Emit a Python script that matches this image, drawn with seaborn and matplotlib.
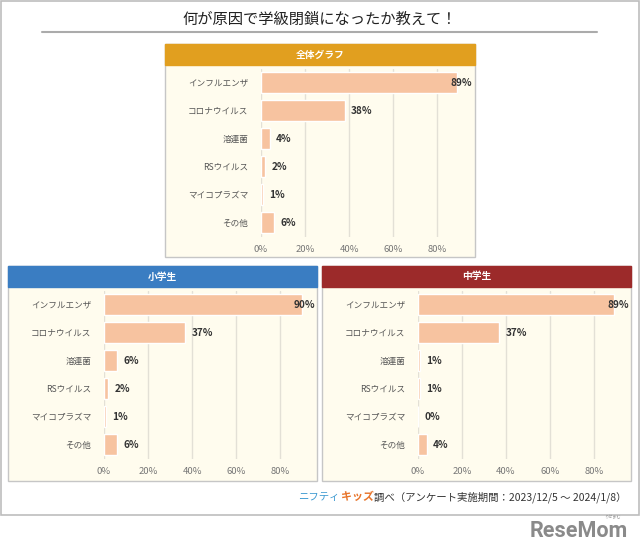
import matplotlib
matplotlib.use('Agg')
import matplotlib.pyplot as plt
import seaborn as sns
from matplotlib.patches import Rectangle
from matplotlib.lines import Line2D

sns.set_theme(style='white')
plt.rcParams['font.family'] = ['Noto Sans CJK JP', 'DejaVu Sans']

# data
categories = ['インフルエンザ', 'コロナウイルス', '溶連菌', 'RSウイルス', 'マイコプラズマ', 'その他']
total_vals = [89, 38, 4, 2, 1, 6]
elem_vals = [90, 37, 6, 2, 1, 6]
junior_vals = [89, 37, 1, 1, 0, 4]
xticks = [0, 20, 40, 60, 80]
xtick_labels = ['0%', '20%', '40%', '60%', '80%']

title = '何が原因で学級閉鎖になったか教えて！'
panel_titles = ['全体グラフ', '小学生', '中学生']

BAR = '#F7C3A0'
CREAM = '#FFFCEE'
HEADERS = ['#E19F1F', '#3A7DC2', '#9C2A2A']
EDGE = '#C6C6C6'
GRID = '#E3E0D6'

W, H = 640, 552
fig = plt.figure(figsize=(W / 100, H / 100), dpi=100)
fig.patch.set_facecolor('white')


def fx(x):
    return x / W


def fy(y):
    return 1 - y / H


def add_rect(x0, y0, x1, y1, **kw):
    fig.patches.append(Rectangle((fx(x0), fy(y1)), fx(x1) - fx(x0), fy(y0) - fy(y1),
                                 transform=fig.transFigure, figure=fig, zorder=0, **kw))


# outer frame
add_rect(1, 1, 639, 515, facecolor='white', edgecolor='#BDBDBD', lw=1.2)

fig.text(fx(320), fy(19), title, ha='center', va='center', fontsize=11, color='#222222')
fig.lines.append(Line2D([fx(42), fx(597)], [fy(32), fy(32)], transform=fig.transFigure,
                        color='#ABABAB', lw=1.5))

XMAX = 95
SCALE = 2.2  # px per percent


def panel(px0, px1, top, bottom, x_zero, header_col, name, vals):
    hb = top + 21
    add_rect(px0, top, px1, bottom, facecolor=CREAM, edgecolor=EDGE, lw=1)
    add_rect(px0, top, px1, hb, facecolor=header_col, edgecolor=header_col, lw=1)
    fig.text(fx((px0 + px1) / 2), fy((top + hb) / 2), name, ha='center', va='center',
             fontsize=7, fontweight='bold', color='white')

    ay0 = hb + 3.5
    ay1 = ay0 + 168
    ax = fig.add_axes([fx(x_zero), fy(ay1), XMAX * SCALE / W, (ay1 - ay0) / H])
    ax.set_zorder(3)
    ax.set_facecolor('none')
    sns.barplot(x=vals, y=categories, orient='h', color=BAR, saturation=1,
                width=0.75, ax=ax, zorder=3)
    ax.set_xlim(0, XMAX)
    ax.set_ylim(5.5, -0.5)
    ax.set_xticks(xticks)
    ax.set_xticklabels(xtick_labels, fontsize=6.8, color='#777777')
    ax.tick_params(axis='x', length=0, pad=6)
    ax.tick_params(axis='y', length=0, pad=9, labelsize=6.2, labelcolor='#555555')
    ax.grid(axis='x', color=GRID, lw=1, zorder=0)
    ax.set_axisbelow(True)
    for s in ax.spines.values():
        s.set_visible(False)
    ax.set_xlabel('')
    ax.set_ylabel('')
    for i, v in enumerate(vals):
        if v > 80:
            ax.text(XMAX + 0.8, i, f'{v}%', ha='right', va='center', fontsize=7.2,
                    fontweight='bold', color='#333333', zorder=5)
        else:
            ax.annotate(f'{v}%', (v, i), xytext=(4.5, 0), textcoords='offset points',
                        ha='left', va='center', fontsize=7.2, fontweight='bold',
                        color='#333333', zorder=5)
    return ax


panel(165, 475, 44, 257, 261, HEADERS[0], panel_titles[0], total_vals)
panel(8, 317, 266, 481, 104, HEADERS[1], panel_titles[1], elem_vals)
panel(322, 631, 266, 481, 418, HEADERS[2], panel_titles[2], junior_vals)

# footer: pieces laid out one after another
renderer = fig.canvas.get_renderer()
pieces = [('ニフティ', '#3D9AD1', 'normal', 7.5),
          ('キッズ', '#E8742A', 'bold', 7.9),
          ('調べ（アンケート実施期間：2023/12/5 ～ 2024/1/8）', '#333333', 'normal', 7.5)]
xpos = 298
for txt, col, wt, fs in pieces:
    t = fig.text(fx(xpos), fy(497), txt, ha='left', va='center', fontsize=fs,
                 fontweight=wt, color=col)
    bb = t.get_window_extent(renderer)
    xpos += bb.width + 1

fig.text(fx(628), fy(531), 'ReseMom', ha='right', va='center', fontsize=15.5,
         fontweight='bold', color='#8A8A8A', family=['Roboto', 'DejaVu Sans'])
fig.text(fx(612), fy(517), 'りせまむ', ha='center', va='center', fontsize=3, color='#999999')

fig.savefig('out.png', dpi=100, facecolor='white')
